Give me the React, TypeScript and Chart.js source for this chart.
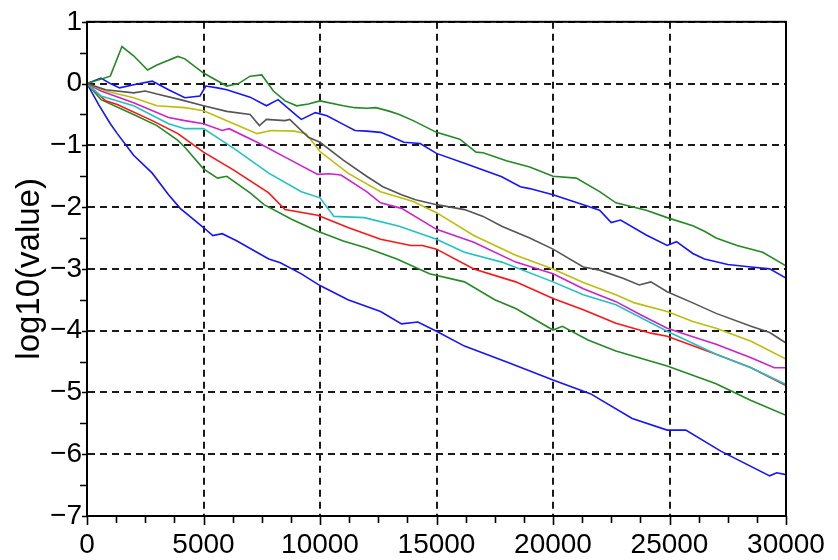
import React, { useEffect, useRef } from "react";
import { Chart, registerables } from "chart.js";

Chart.register(...registerables);

// ---- data (x = iteration, y = log10(value)) ----
const greenTopX = [0, 1000, 1500, 2000, 2600, 3000, 3900, 4200, 5000, 6000, 6500, 7000, 7500, 8000, 8500, 9000, 9500, 10000, 11000, 11500, 12000, 12400, 13000, 13400, 14000, 15000, 16000, 16700, 17000, 18000, 18400, 19000, 20000, 21000, 22000, 22700, 24000, 24900, 26000, 26500, 27000, 27900, 29000, 30000];
const greenTopY = [0, 0.12, 0.6, 0.45, 0.22, 0.3, 0.44, 0.4, 0.17, -0.04, 0.0, 0.12, 0.14, -0.12, -0.28, -0.36, -0.33, -0.28, -0.36, -0.39, -0.4, -0.39, -0.45, -0.5, -0.6, -0.79, -0.9, -1.11, -1.12, -1.25, -1.29, -1.35, -1.5, -1.53, -1.75, -1.93, -2.05, -2.17, -2.3, -2.39, -2.5, -2.62, -2.73, -2.95];

const blueTopX = [0, 600, 1000, 1400, 2000, 2800, 3500, 4200, 4850, 5100, 5600, 6000, 7000, 7700, 8200, 9000, 9200, 9800, 10300, 11000, 11500, 12000, 12600, 13000, 13600, 14300, 15000, 16200, 17000, 17800, 18600, 19000, 20000, 21300, 22000, 22500, 22900, 24000, 24900, 25300, 26000, 26500, 27500, 28500, 29300, 30000];
const blueTopY = [0, 0.09, 0.0, -0.07, -0.02, 0.04, -0.1, -0.23, -0.2, -0.04, -0.07, -0.1, -0.22, -0.36, -0.26, -0.52, -0.58, -0.47, -0.52, -0.66, -0.76, -0.77, -0.79, -0.85, -0.95, -0.97, -1.13, -1.29, -1.4, -1.51, -1.67, -1.7, -1.8, -1.96, -2.05, -2.25, -2.21, -2.45, -2.62, -2.56, -2.75, -2.84, -2.93, -2.97, -3.0, -3.15];

const grayX = [0, 800, 2000, 2500, 3000, 4000, 5000, 6000, 7000, 7400, 7700, 8500, 8700, 9500, 10000, 11000, 12000, 12700, 13500, 14100, 15000, 16200, 17000, 17800, 19000, 20000, 21300, 22000, 23000, 23700, 24200, 24900, 26000, 27000, 28500, 29300, 30000];
const grayY = [0, -0.1, -0.15, -0.12, -0.17, -0.26, -0.36, -0.45, -0.5, -0.68, -0.58, -0.6, -0.58, -0.87, -0.95, -1.24, -1.5, -1.67, -1.8, -1.88, -1.96, -2.04, -2.15, -2.31, -2.5, -2.68, -2.97, -3.02, -3.15, -3.26, -3.21, -3.37, -3.55, -3.72, -3.93, -4.03, -4.2];

const yellowX = [0, 800, 2000, 3000, 4200, 5000, 6300, 7300, 7900, 8900, 9400, 10000, 11200, 12600, 14000, 15000, 16600, 18400, 20000, 21300, 22700, 23500, 24900, 26000, 27000, 28500, 30000];
const yellowY = [0, -0.12, -0.23, -0.36, -0.39, -0.44, -0.65, -0.81, -0.76, -0.77, -0.81, -1.1, -1.45, -1.75, -1.91, -2.09, -2.46, -2.78, -3.0, -3.22, -3.42, -3.55, -3.69, -3.85, -3.96, -4.17, -4.46];

const magentaX = [0, 600, 2000, 3500, 4200, 5000, 5800, 6100, 7300, 8500, 9900, 10400, 10900, 12000, 12600, 13500, 15000, 16600, 18400, 20000, 21300, 22700, 23800, 24900, 26000, 27000, 28500, 29500, 30000];
const magentaY = [0, -0.12, -0.31, -0.55, -0.6, -0.65, -0.76, -0.73, -0.95, -1.19, -1.47, -1.46, -1.48, -1.75, -1.93, -2.02, -2.36, -2.57, -2.89, -3.08, -3.32, -3.53, -3.75, -3.96, -4.1, -4.22, -4.44, -4.6, -4.6];

const cyanX = [0, 600, 2000, 3500, 4200, 5000, 6300, 7800, 9200, 10000, 10600, 11900, 13400, 15000, 16200, 17800, 20000, 21300, 22700, 24900, 27000, 28500, 30000];
const cyanY = [0, -0.2, -0.36, -0.65, -0.73, -0.73, -1.05, -1.45, -1.75, -1.85, -2.15, -2.17, -2.31, -2.52, -2.73, -2.89, -3.21, -3.42, -3.58, -4.01, -4.38, -4.6, -4.87];

const redX = [0, 800, 1300, 2800, 3900, 5000, 6300, 7800, 8500, 9900, 11200, 12600, 13900, 14400, 15000, 16600, 18400, 20000, 21300, 22700, 24200, 24900, 27000, 28500, 30000];
const redY = [0, -0.28, -0.34, -0.6, -0.81, -1.11, -1.4, -1.77, -2.04, -2.13, -2.33, -2.52, -2.62, -2.62, -2.68, -3.0, -3.21, -3.48, -3.66, -3.88, -4.04, -4.09, -4.38, -4.6, -4.89];

const greenLowX = [0, 600, 2000, 3000, 3900, 4200, 5000, 5600, 6000, 7000, 7600, 8800, 9900, 11000, 12000, 13300, 14700, 16200, 17500, 18400, 20000, 20400, 21500, 22700, 24900, 27000, 28500, 30000];
const greenLowY = [0, -0.26, -0.5, -0.68, -0.92, -1.03, -1.38, -1.53, -1.5, -1.77, -1.96, -2.2, -2.39, -2.55, -2.66, -2.84, -3.08, -3.21, -3.5, -3.64, -3.99, -3.93, -4.15, -4.33, -4.57, -4.86, -5.13, -5.37];

const blueLowX = [0, 500, 1000, 1300, 2000, 2800, 3500, 4000, 5000, 5400, 5800, 6400, 7800, 8300, 9200, 10000, 11200, 12600, 13500, 14200, 15000, 16200, 18100, 20000, 21600, 23400, 24900, 25700, 27200, 29300, 29600, 30000];
const blueLowY = [0, -0.34, -0.65, -0.81, -1.16, -1.45, -1.8, -2.02, -2.33, -2.46, -2.43, -2.54, -2.84, -2.9, -3.08, -3.27, -3.5, -3.69, -3.89, -3.86, -4.01, -4.25, -4.52, -4.8, -5.02, -5.42, -5.61, -5.61, -5.95, -6.35, -6.3, -6.33];

const xTickLabels = ["0", "5000", "10000", "15000", "20000", "25000", "30000"];
const yTickLabels = ["\u22127", "\u22126", "\u22125", "\u22124", "\u22123", "\u22122", "\u22121", "0", "1"];

const FONT = "'Liberation Sans', Arial, Helvetica, sans-serif";

const pts = (xs: number[], ys: number[]) => xs.map((x, i) => ({ x, y: ys[i] }));

const framePlugin = {
  id: "frame",
  afterDraw(chart: any) {
    const { ctx, chartArea, scales } = chart;
    const { left, right, top, bottom } = chartArea;
    const x = scales.x;
    const y = scales.y;
    ctx.save();
    ctx.setLineDash([]);
    ctx.strokeStyle = "#000";
    ctx.lineWidth = 2;
    ctx.strokeRect(left, top, right - left, bottom - top);
    ctx.lineWidth = 1.6;
    ctx.beginPath();
    for (let v = 0; v <= 30000; v += 1250) {
      const px = Math.round(x.getPixelForValue(v)) + 0.5;
      ctx.moveTo(px, bottom);
      ctx.lineTo(px, bottom + (v % 5000 === 0 ? 9 : 7));
    }
    for (let v = -7; v <= 1; v += 0.5) {
      const py = Math.round(y.getPixelForValue(v)) + 0.5;
      ctx.moveTo(left, py);
      ctx.lineTo(left - (Number.isInteger(v) ? 5 : 7), py);
    }
    ctx.stroke();
    ctx.restore();
  },
};

export default function App() {
  const ref = useRef<HTMLCanvasElement | null>(null);

  useEffect(() => {
    document.body.style.margin = "0";
    const canvas = ref.current;
    if (!canvas) return;
    const mk = (label: string, xs: number[], ys: number[], color: string) => ({
      label,
      data: pts(xs, ys),
      borderColor: color,
      backgroundColor: color,
      borderWidth: 1.6,
      pointRadius: 0,
      tension: 0,
      fill: false,
    });
    const chart = new Chart(canvas, {
      type: "line",
      data: {
        datasets: [
          mk("green top", greenTopX, greenTopY, "#238a23"),
          mk("blue top", blueTopX, blueTopY, "#1414ff"),
          mk("gray", grayX, grayY, "#555555"),
          mk("yellow", yellowX, yellowY, "#bdbd0a"),
          mk("magenta", magentaX, magentaY, "#cc22cc"),
          mk("cyan", cyanX, cyanY, "#22c2c2"),
          mk("red", redX, redY, "#ff1414"),
          mk("green low", greenLowX, greenLowY, "#238a23"),
          mk("blue low", blueLowX, blueLowY, "#1414ff"),
        ],
      },
      options: {
        animation: false,
        responsive: false,
        maintainAspectRatio: false,
        layout: { padding: { top: 16, right: 52, left: 0, bottom: 0 } },
        plugins: { legend: { display: false }, tooltip: { enabled: false } },
        scales: {
          x: {
            type: "linear",
            min: 0,
            max: 30000,
            afterFit: (s: any) => {
              s.height = 44;
            },
            afterBuildTicks: (s: any) => {
              s.ticks = xTickLabels.map((t) => ({ value: Number(t) }));
            },
            ticks: {
              autoSkip: false,
              maxRotation: 0,
              padding: 12,
              color: "#000",
              font: { family: FONT, size: 28 },
              callback: (v: any, i: number) => xTickLabels[i],
            },
            grid: {
              color: "#1a1a1a",
              lineWidth: 2,
              drawTicks: false,
            },
            border: { display: true, color: "#000", width: 2, dash: [7, 5] },
          },
          y: {
            type: "linear",
            min: -7,
            max: 1,
            afterFit: (s: any) => {
              s.width = 87;
            },
            afterBuildTicks: (s: any) => {
              s.ticks = yTickLabels.map((_, i) => ({ value: i - 7 }));
            },
            ticks: {
              autoSkip: false,
              padding: 5,
              color: "#000",
              font: { family: FONT, size: 28 },
              callback: (v: any, i: number) => yTickLabels[i],
            },
            grid: {
              color: "#1a1a1a",
              lineWidth: 2,
              drawTicks: false,
            },
            border: { display: true, color: "#000", width: 2, dash: [7, 5] },
            title: {
              display: true,
              text: "log10(value)",
              color: "#000",
              font: { family: FONT, size: 33 },
              padding: { top: 10, bottom: 0 },
            },
          },
        },
      },
      plugins: [framePlugin],
    });
    return () => chart.destroy();
  }, []);

  return (
    <div style={{ width: 838, height: 560 }}>
      <canvas ref={ref} width={838} height={560} style={{ display: "block", width: 838, height: 560 }} />
    </div>
  );
}
